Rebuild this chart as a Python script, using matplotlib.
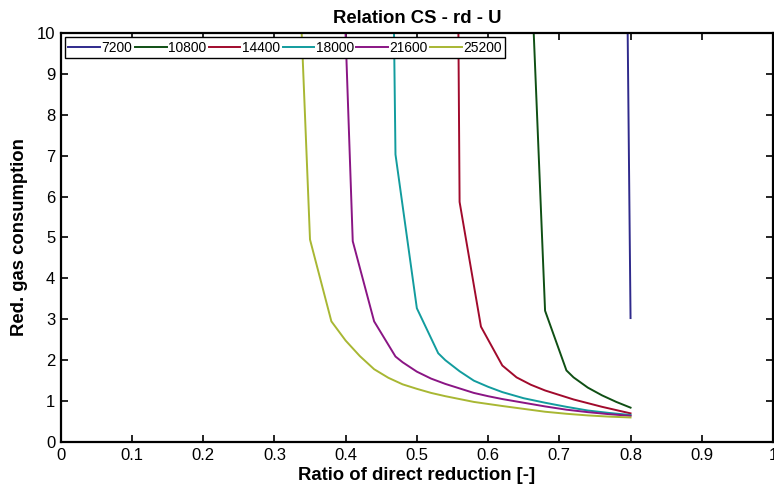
import matplotlib
matplotlib.use("Agg")
import matplotlib.pyplot as plt
from matplotlib.ticker import FuncFormatter

plt.rcParams['font.family'] = ['Liberation Sans', 'DejaVu Sans']

# ratio of direct reduction (x) and reduction gas consumption (y), one series per U
rd_7200 = [0.77, 0.80]
cs_7200 = [55.0, 3.03]

rd_10800 = [0.65, 0.68, 0.71, 0.72, 0.74, 0.76, 0.78, 0.80]
cs_10800 = [16.0, 3.21, 1.75, 1.58, 1.33, 1.14, 0.98, 0.84]

rd_14400 = [0.53, 0.56, 0.59, 0.62, 0.64, 0.66, 0.68, 0.70, 0.72, 0.74, 0.76, 0.78, 0.80]
cs_14400 = [80.0, 5.87, 2.82, 1.87, 1.58, 1.40, 1.26, 1.15, 1.04, 0.95, 0.86, 0.78, 0.70]

rd_18000 = [0.44, 0.47, 0.50, 0.53, 0.54, 0.56, 0.58, 0.60, 0.62, 0.65, 0.68, 0.71, 0.74, 0.77, 0.80]
cs_18000 = [50.0, 7.03, 3.27, 2.17, 2.00, 1.73, 1.50, 1.35, 1.22, 1.07, 0.96, 0.86, 0.77, 0.71, 0.66]

rd_21600 = [0.38, 0.41, 0.44, 0.47, 0.48, 0.50, 0.52, 0.54, 0.56, 0.58, 0.60, 0.62,
            0.65, 0.68, 0.71, 0.74, 0.77, 0.80]
cs_21600 = [20.0, 4.91, 2.95, 2.09, 1.95, 1.72, 1.55, 1.42, 1.31, 1.20, 1.12, 1.05,
            0.96, 0.87, 0.79, 0.73, 0.68, 0.64]

rd_25200 = [0.32, 0.35, 0.38, 0.40, 0.42, 0.44, 0.46, 0.48, 0.50, 0.52, 0.54, 0.56, 0.58,
            0.60, 0.62, 0.65, 0.68, 0.71, 0.74, 0.77, 0.80]
cs_25200 = [17.9, 4.95, 2.95, 2.48, 2.10, 1.78, 1.57, 1.41, 1.30, 1.20, 1.12, 1.05, 0.98,
            0.93, 0.88, 0.81, 0.74, 0.69, 0.65, 0.62, 0.60]

series = [
    ("7200", rd_7200, cs_7200, "#2f2a8c"),
    ("10800", rd_10800, cs_10800, "#0f4f14"),
    ("14400", rd_14400, cs_14400, "#a10a2c"),
    ("18000", rd_18000, cs_18000, "#129c9e"),
    ("21600", rd_21600, cs_21600, "#8a1584"),
    ("25200", rd_25200, cs_25200, "#a8b733"),
]

fig = plt.figure(figsize=(7.74, 4.84), dpi=100)
ax = fig.add_axes([60.7/774, 42/484, 712.3/774, 409/484])

for name, x, y, c in series:
    ax.plot(x, y, color=c, lw=1.4, label=name)

ax.set_xlim(0, 1)
ax.set_ylim(0, 10)
ax.set_xticks([i/10 for i in range(11)])
ax.set_yticks(range(11))
ax.xaxis.set_major_formatter(FuncFormatter(lambda v, p: "%g" % v))
ax.tick_params(direction='in', length=5, width=1.2, top=True, right=True,
               labelsize=12, pad=4)
for s in ax.spines.values():
    s.set_linewidth(1.6)

ax.set_title("Relation CS - rd - U", fontsize=13.3, fontweight='bold', pad=7)
ax.set_xlabel("Ratio of direct reduction [-]", fontsize=13.3, fontweight='bold', labelpad=3)
ax.set_ylabel("Red. gas consumption", fontsize=13.3, fontweight='bold', labelpad=6)

leg = ax.legend(loc='upper left', bbox_to_anchor=(0.006, 0.99), ncol=6,
                fontsize=9.9, handlelength=2.3, handletextpad=0.1,
                columnspacing=0.2, borderpad=0.25, borderaxespad=0,
                fancybox=False, framealpha=1)
leg.get_frame().set_edgecolor('black')
leg.get_frame().set_linewidth(1.0)

plt.savefig("out.png", dpi=100)
